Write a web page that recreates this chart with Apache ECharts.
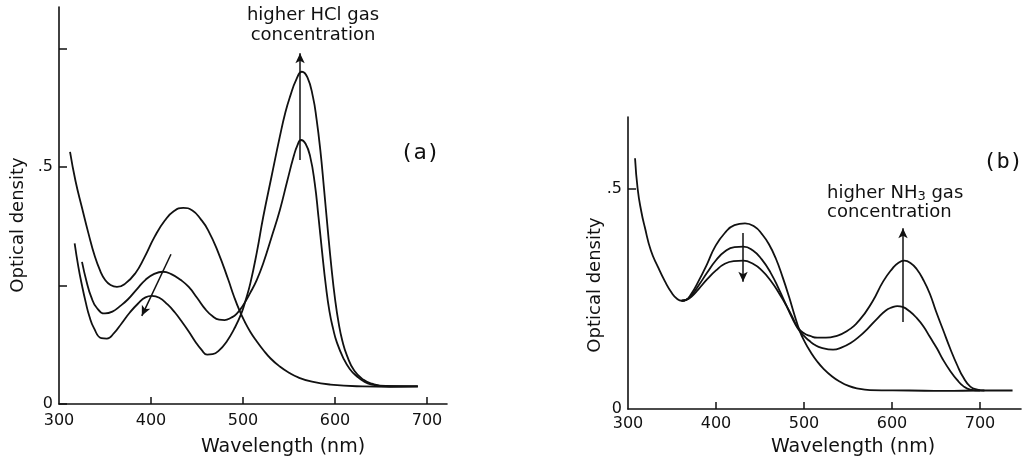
<!DOCTYPE html>
<html>
<head>
<meta charset="utf-8">
<script src="https://cdn.jsdelivr.net/npm/echarts@6/dist/echarts.min.js"></script>
<style>html,body{margin:0;padding:0;background:#fff;}#c{width:1031px;height:460px;}</style>
</head>
<body>
<div id="c"></div>
<script>
// ---- Data (wavelength nm, optical density) ----
const xTickLabels = [300, 400, 500, 600, 700];
const yLabelsA = [0, 0.5];
const yTicksA = [0, 0.25, 0.5, 0.75];
const yLabelsB = [0, 0.5];
const yTicksB = [0.5];

// Panel (a): HCl exposure
const hcl0 = [[312,0.532],[318,0.47],[325,0.414],[332,0.36],[339,0.311],[345,0.28],[350,0.262],[356,0.251],[363,0.247],[372,0.254],[383,0.276],[393,0.31],[404,0.353],[415,0.387],[425,0.407],[435,0.414],[445,0.408],[454,0.39],[462,0.367],[473,0.32],[484,0.262],[490,0.228],[496,0.198],[502,0.173],[508,0.152],[515,0.132],[522,0.114],[530,0.096],[540,0.079],[550,0.066],[560,0.056],[575,0.047],[595,0.041],[630,0.037],[660,0.036],[690,0.037]];
const hcl1 = [[325,0.30],[330,0.258],[335,0.226],[341,0.203],[350,0.191],[358,0.195],[366,0.206],[375,0.221],[385,0.243],[394,0.262],[403,0.274],[413,0.279],[422,0.274],[432,0.262],[441,0.247],[450,0.224],[459,0.2],[467,0.185],[474,0.178],[480,0.177],[487,0.182],[493,0.19],[500,0.208],[508,0.235],[515,0.262],[522,0.297],[531,0.352],[540,0.409],[548,0.47],[555,0.522],[559,0.545],[563,0.557],[568,0.549],[573,0.522],[578,0.465],[582,0.395],[586,0.32],[590,0.25],[594,0.195],[598,0.158],[602,0.13],[609,0.097],[616,0.074],[624,0.058],[631,0.048],[640,0.041],[660,0.037],[690,0.037]];
const hcl2 = [[317,0.339],[321,0.29],[325,0.25],[329,0.215],[333,0.185],[338,0.16],[346,0.139],[352,0.138],[360,0.15],[368,0.17],[377,0.193],[386,0.212],[394,0.225],[401,0.228],[409,0.224],[418,0.21],[426,0.193],[433,0.175],[441,0.153],[448,0.132],[455,0.114],[461,0.104],[467,0.105],[474,0.113],[482,0.131],[490,0.157],[498,0.19],[503,0.22],[508,0.255],[515,0.32],[522,0.395],[531,0.48],[540,0.564],[546,0.615],[551,0.648],[558,0.685],[564,0.701],[570,0.689],[576,0.648],[580,0.6],[584,0.536],[588,0.455],[592,0.37],[596,0.29],[600,0.222],[604,0.17],[608,0.133],[613,0.102],[621,0.07],[631,0.051],[640,0.043],[655,0.038],[690,0.037]];

// Panel (b): NH3 exposure
const nh30 = [[308,0.57],[311,0.50],[315,0.45],[319,0.414],[326,0.36],[334,0.323],[342,0.29],[350,0.263],[356,0.25],[361,0.246],[366,0.248],[372,0.262],[380,0.29],[390,0.33],[399,0.369],[410,0.4],[421,0.418],[433,0.422],[444,0.414],[452,0.398],[460,0.375],[468,0.342],[476,0.298],[483,0.255],[489,0.215],[495,0.178],[501,0.152],[508,0.128],[515,0.108],[522,0.092],[532,0.074],[541,0.062],[550,0.053],[560,0.047],[575,0.043],[620,0.042],[660,0.041],[700,0.042],[737,0.042]];
const nh31 = [[361,0.246],[366,0.248],[372,0.258],[380,0.28],[390,0.31],[400,0.338],[410,0.358],[421,0.368],[431,0.369],[442,0.36],[452,0.34],[462,0.31],[472,0.27],[480,0.235],[487,0.205],[493,0.183],[500,0.166],[506,0.155],[512,0.146],[520,0.139],[533,0.135],[543,0.14],[553,0.15],[563,0.165],[573,0.184],[583,0.205],[593,0.224],[600,0.231],[606,0.234],[612,0.232],[620,0.222],[628,0.207],[636,0.187],[643,0.164],[651,0.138],[658,0.112],[666,0.087],[674,0.066],[681,0.052],[689,0.044],[700,0.042]];
const nh32 = [[361,0.246],[366,0.248],[372,0.255],[380,0.272],[390,0.295],[400,0.315],[410,0.33],[420,0.336],[431,0.337],[442,0.33],[452,0.315],[462,0.292],[472,0.262],[480,0.235],[487,0.208],[493,0.185],[500,0.172],[507,0.166],[515,0.162],[525,0.162],[535,0.165],[548,0.176],[563,0.202],[578,0.245],[590,0.29],[600,0.318],[607,0.332],[614,0.337],[621,0.332],[628,0.318],[636,0.292],[643,0.262],[650,0.222],[658,0.18],[666,0.138],[674,0.1],[681,0.072],[689,0.051],[697,0.044],[705,0.042]];

// Arrows [x1,y1,x2,y2]
const arrowA1 = [562, 0.515, 562, 0.74];
const arrowA2 = [421.7, 0.316, 390, 0.186];
const arrowB1 = [612.5, 0.198, 612.5, 0.411];
const arrowB2 = [430.7, 0.4, 430.7, 0.289];

const FONT = 'DejaVu Sans';
const INK = '#111';

function axisX(grid, max, margin) {
  return {
    type: 'value', gridIndex: grid, min: 300, max: max,
    axisLine: { show: true, lineStyle: { color: INK, width: 1.6 } },
    axisTick: { show: true, inside: true, length: 7, lineStyle: { color: INK, width: 1.5 }, customValues: [400, 500, 600, 700] },
    axisLabel: { show: true, customValues: xTickLabels, color: INK, fontFamily: FONT, fontSize: 16, margin: margin },
    splitLine: { show: false }
  };
}
function axisY(grid, max, ticks, labels) {
  return {
    type: 'value', gridIndex: grid, min: 0, max: max,
    axisLine: { show: true, lineStyle: { color: INK, width: 1.6 } },
    axisTick: { show: true, inside: true, length: 8, lineStyle: { color: INK, width: 1.5 }, customValues: ticks },
    axisLabel: { show: true, customValues: labels, color: INK, fontFamily: FONT, fontSize: 16, margin: 6,
      formatter: v => (v === 0 ? '0' : '.5') },
    splitLine: { show: false }
  };
}
function curve(data, gi) {
  return { type: 'line', data: data, xAxisIndex: gi, yAxisIndex: gi, smooth: 0.5, symbol: 'none',
    lineStyle: { color: INK, width: 1.8 }, silent: true };
}
function arrowSeries(arrs, gi) {
  return { type: 'line', data: [], xAxisIndex: gi, yAxisIndex: gi, silent: true,
    markLine: { silent: true, animation: false, symbol: ['none', 'arrow'], symbolSize: [7, 10],
      label: { show: false }, lineStyle: { color: INK, width: 1.5, type: 'solid' },
      data: arrs.map(a => [{ coord: [a[0], a[1]] }, { coord: [a[2], a[3]] }]) } };
}

const chart = echarts.init(document.getElementById('c'), null, { renderer: 'canvas' });
chart.setOption({
  animation: false,
  backgroundColor: '#fff',
  grid: [
    { left: 59, top: 7, width: 388, height: 397 },
    { left: 628, top: 117, width: 393, height: 292 }
  ],
  xAxis: [axisX(0, 721.7, 9), axisX(1, 746.6, 7)],
  yAxis: [axisY(0, 0.8376, yTicksA, yLabelsA), axisY(1, 0.6636, yTicksB, yLabelsB)],
  series: [
    curve(hcl0, 0), curve(hcl1, 0), curve(hcl2, 0),
    curve(nh30, 1), curve(nh31, 1), curve(nh32, 1),
    arrowSeries([arrowA1, arrowA2], 0),
    arrowSeries([arrowB1, arrowB2], 1)
  ],
  graphic: [
    { type: 'text', x: 18, y: 225, rotation: Math.PI / 2, style: { text: 'Optical density', fontFamily: FONT, fontSize: 18, fill: INK, align: 'center', verticalAlign: 'middle' } },
    { type: 'text', x: 595, y: 285, rotation: Math.PI / 2, style: { text: 'Optical density', fontFamily: FONT, fontSize: 18, fill: INK, align: 'center', verticalAlign: 'middle' } },
    { type: 'text', x: 283, y: 447, style: { text: 'Wavelength (nm)', fontFamily: FONT, fontSize: 19, fill: INK, align: 'center', verticalAlign: 'middle' } },
    { type: 'text', x: 853, y: 447, style: { text: 'Wavelength (nm)', fontFamily: FONT, fontSize: 19, fill: INK, align: 'center', verticalAlign: 'middle' } },
    { type: 'text', x: 313, y: 15, style: { text: 'higher HCl gas', fontFamily: FONT, fontSize: 18, fill: INK, align: 'center', verticalAlign: 'middle' } },
    { type: 'text', x: 313, y: 35, style: { text: 'concentration', fontFamily: FONT, fontSize: 18, fill: INK, align: 'center', verticalAlign: 'middle' } },
    { type: 'text', x: 827, y: 193, style: { text: '{t|higher NH}{s|3}{t| gas}', fontFamily: FONT, fill: INK, align: 'left', verticalAlign: 'middle',
        rich: { t: { fontFamily: FONT, fontSize: 18, fill: INK }, s: { fontFamily: FONT, fontSize: 13, fill: INK, padding: [8, 0, 0, 0] } } } },
    { type: 'text', x: 827, y: 212, style: { text: 'concentration', fontFamily: FONT, fontSize: 18, fill: INK, align: 'left', verticalAlign: 'middle' } },
    { type: 'text', x: 420, y: 153, style: { text: '(a)', fontFamily: 'DejaVu Sans Mono', fontSize: 22, fill: INK, align: 'center', verticalAlign: 'middle' } },
    { type: 'text', x: 1003, y: 162, style: { text: '(b)', fontFamily: 'DejaVu Sans Mono', fontSize: 22, fill: INK, align: 'center', verticalAlign: 'middle' } }
  ]
});
</script>
</body>
</html>
